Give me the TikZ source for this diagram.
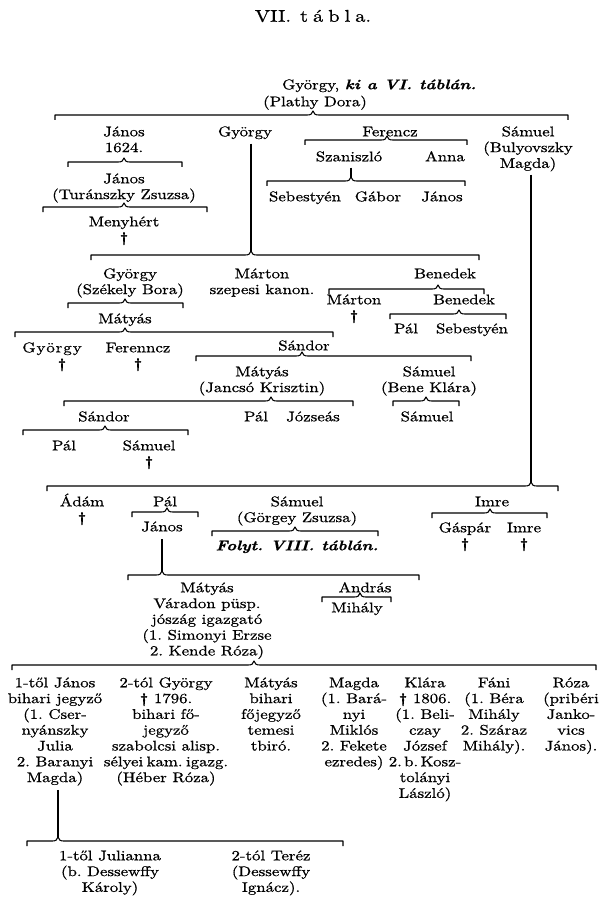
\documentclass[tikz,border=0pt]{standalone}
\usepackage{fontspec}
\setmainfont{lmroman10-regular.otf}[FakeStretch=1.2, FakeBold=0.8, BoldFont=lmroman10-bold.otf, ItalicFont=lmroman10-italic.otf, BoldItalicFont=lmroman10-bolditalic.otf]
\newcommand\gfont{\fontsize{14}{15.8}\selectfont\frenchspacing}
\newcommand\bi[1]{\textbf{\textit{#1}}}
\newcommand\dg{\textbf{†}}
\tikzset{
 pn/.style={align=center, inner sep=0pt, anchor=north, font=\gfont},
 brk/.style={line width=1.1pt, line join=round},
 con/.style={line width=1.1pt},
}
\newcommand\pers[4]{\node[pn] (#1) at (#2,#3-6) {\strut #4};}
\newcommand\kinbr[5]{%
  \draw[brk] (#2,#5+5) -- (#2,#5) -- (#4-6,#5) .. controls (#4-2,#5) and (#4-1,#5-1) .. (#4,#5-4) .. controls (#4+1,#5-1) and (#4+2,#5) .. (#4+6,#5) -- (#3,#5) -- (#3,#5+5);
  \coordinate (#1) at (#4,#5-4);}
\begin{document}
\begin{tikzpicture}[x=1pt,y=-1pt]
\useasboundingbox (0,0) rectangle (609,912);
\node[font=\fontsize{17}{19}\selectfont, inner sep=0pt] (title) at (313,16) {VII.\hspace{9pt}t\hspace{5pt}á\hspace{5pt}b\hspace{5pt}l\hspace{5pt}a.};
\node[pn, anchor=north west] (gy0) at (282,78) {\strut György, \bi{ki a VI. táblán.}};
\pers{pd}{315}{101}{(Plathy Dora)}
\kinbr{bA}{55}{568}{313}{115}
\pers{jan1}{124}{131}{János\\1624.}
\pers{gy1}{245}{131}{György}
\pers{fer1}{390}{131}{Ferencz}
\pers{sam1}{528}{131}{Sámuel\\(Bulyovszky\\Magda)}
\kinbr{bB}{68}{182}{124}{162}
\pers{jan2}{124}{178}{János\\(Turánszky Zsuzsa)}
\kinbr{bC}{43}{207}{124}{207}
\pers{meny}{124}{221}{Menyhért\\\dg}
\kinbr{bD}{305}{467}{387}{140}
\pers{szan}{349}{156}{Szaniszló}
\pers{anna}{445}{156}{Anna}
\kinbr{bE}{267}{465}{351}{181}
\pers{seb1}{305}{196}{Sebestyén}
\pers{gab}{378}{196}{Gábor}
\pers{jan3}{442}{196}{János}
\draw[con,shorten <=1.5pt] (szan.south -| bE) -- (bE);
\kinbr{bF}{91}{479}{251}{255}
\draw[con,shorten <=2.5pt] (gy1.south -| bF) -- (bF);
\pers{gy2}{130}{273}{György\\(Székely Bora)}
\pers{mar1}{262}{273}{Márton\\szepesi kanon.}
\pers{ben1}{445}{273}{Benedek}
\kinbr{bG}{68}{183}{125}{303}
\pers{mat1}{125}{318}{Mátyás}
\kinbr{bH}{15}{333}{125}{332}
\pers{gy3}{52}{347}{G\hspace{1pt}y\hspace{1pt}ö\hspace{1pt}r\hspace{1pt}g\hspace{1pt}y}
\pers{dg3}{62}{363}{\dg}
\pers{fer2}{138}{347}{Ferenncz\\\dg}
\pers{san1}{304}{345}{Sándor}
\kinbr{bI}{329}{484}{438}{289}
\pers{mar2}{354}{299}{Márton\\\dg}
\pers{ben2}{464}{299}{Benedek}
\kinbr{bJ}{390}{506}{459}{314}
\pers{pal1}{406}{328}{Pál}
\pers{seb2}{472}{328}{Sebestyén}
\kinbr{bK}{196}{471}{302}{356}
\pers{mat2}{262}{371}{Mátyás\\(Jancsó Krisztin)}
\pers{sam2}{429}{371}{Sámuel\\(Bene Klára)}
\kinbr{bL}{64}{353}{271}{401}
\pers{san2}{104}{416}{Sándor}
\pers{pal2}{256}{416}{Pál}
\pers{joz}{313}{416}{Józseás}
\kinbr{bM}{393}{459}{426}{401}
\pers{sam3}{427}{416}{Sámuel}
\kinbr{bN}{23}{188}{105}{430}
\pers{pal3}{64}{445}{Pál}
\pers{sam4}{149}{445}{Sámuel\\\dg}
\kinbr{bO}{47}{558}{531}{486}
\draw[con,shorten <=3pt] (sam1.south -| bO) -- (bO);
\pers{adam}{82}{501}{\smash{Á}dám\\\dg}
\pers{pal4}{165}{501}{Pál}
\kinbr{bP}{132}{198}{167}{512}
\pers{jan4}{162}{526}{János}
\pers{sam5}{297}{501}{Sámuel\\(Görgey Zsuzsa)}
\kinbr{bQ}{212}{378}{295}{531}
\pers{folyt}{297}{545}{\bi{Folyt. VIII. táblán.}}
\pers{imre1}{492}{501}{Imre}
\kinbr{bR}{432}{547}{490}{513}
\pers{gasp}{465}{527}{Gáspár\\\dg}
\pers{imre2}{524}{527}{Imre\\\dg}
\kinbr{bS}{128}{419}{162}{575}
\draw[con,shorten <=3pt] (jan4.south -| bS) -- (bS);
\pers{mat3}{207}{587}{Mátyás\\Váradon püsp.\\jószág igazgató\\(1. Simonyi Erzse\\2. Kende Róza)}
\pers{andr}{365}{587}{András}
\kinbr{bT}{322}{391}{360}{597}
\pers{mih}{357}{607}{Mihály}
\kinbr{bU}{12}{596}{254}{665}
\pers{c1}{55}{682}{1-től János\\bihari jegyző\\(1. Cser-\\nyánszky\\Julia\\2. Baranyi\\Magda)}
\pers{c2}{166}{682}{2-tól György\\\dg{} 1796.\\bihari fő-\\jegyző\\szabolcsi alisp.\\sélyei\hspace{3.5pt}kam.\hspace{3.5pt}igazg.\\(Héber Róza)}
\pers{c3}{271}{682}{Mátyás\\bihari\\főjegyző\\temesi\\tbiró.}
\pers{c4}{354}{682}{Magda\\(1. Bará-\\nyi\\Miklós\\2. Fekete\\ezredes)}
\pers{c5}{425}{682}{Klára\\\dg{} 1806.\\(1. Beli-\\czay\\József\\2.\,b.\,Kosz-\\tolányi\\László)}
\pers{c6}{494}{682}{Fáni\\(1. Béra\\Mihály\\2. Száraz\\Mihály).}
\pers{c7}{571}{682}{Róza\\(pribéri\\Janko-\\vics\\János).}
\kinbr{bV}{27}{343}{58}{841}
\draw[con,shorten <=4pt] (c1.south -| bV) -- (bV);
\pers{jul}{110}{855}{1-től Julianna\\(b. Dessewffy\\Károly)}
\pers{ter}{271}{855}{2-tól Teréz\\(Dessewffy\\Ignácz).}
\end{tikzpicture}
\end{document}
